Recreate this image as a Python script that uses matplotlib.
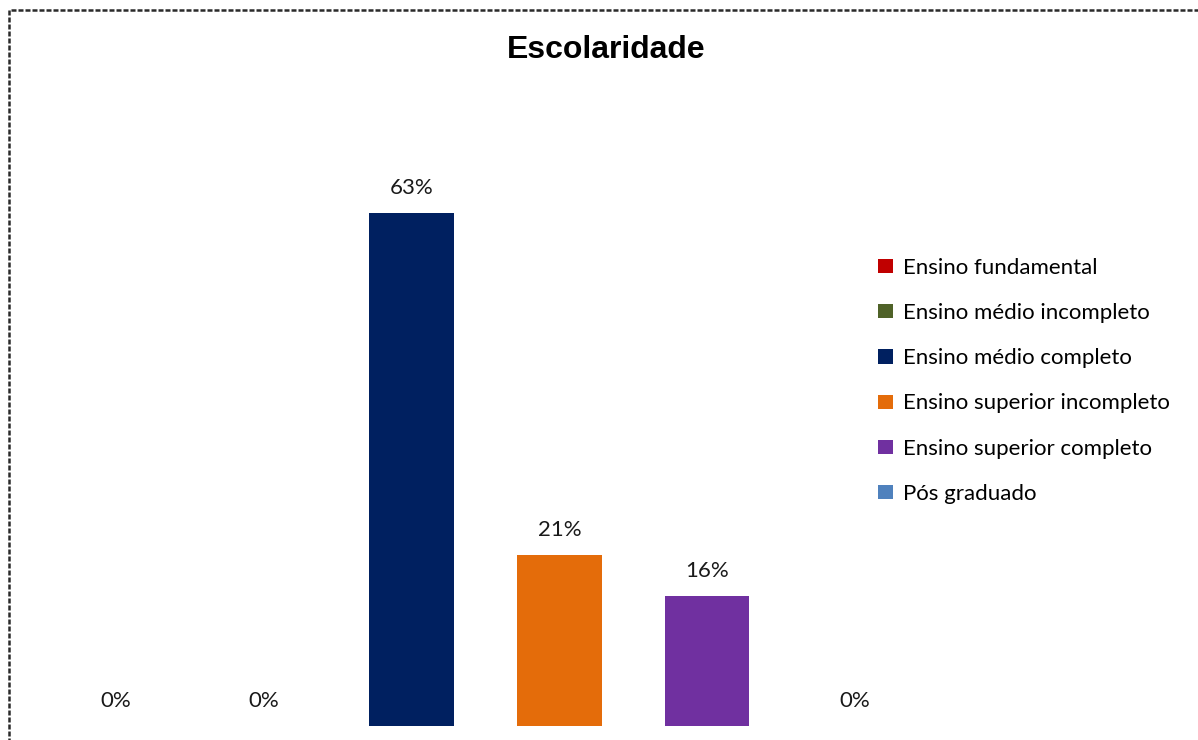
import matplotlib
matplotlib.use('Agg')
import matplotlib.pyplot as plt
from matplotlib.patches import Rectangle
import numpy as np

# Dados do gráfico
categorias = ["Ensino fundamental", "Ensino médio incompleto", "Ensino médio completo",
              "Ensino superior incompleto", "Ensino superior completo", "Pós graduado"]
percentuais = [0, 0, 63, 21, 16, 0]
cores = ["#C00000", "#4F6228", "#002060", "#E46C0A", "#7030A0", "#4F81BD"]

W, H = 1198, 740
fig = plt.figure(figsize=(W / 100, H / 100), dpi=100)

# Eixo posicionado em pixels: x de 42 a 929, base em y=726
left, right = 42, 929
base = 726
top = base - 70 * 8.14
ax = fig.add_axes([left / W, 1 - base / H, (right - left) / W, (base - top) / H])
ax.set_xlim(-0.5, 5.5)
ax.set_ylim(0, 70)
ax.set_axis_off()

x = np.arange(len(categorias))
for i in range(len(categorias)):
    ax.bar(x[i], percentuais[i], width=0.57, color=cores[i], label=categorias[i])
    ax.annotate(f"{percentuais[i]}%", (x[i], percentuais[i]), xytext=(0, 18),
                textcoords="offset points", ha="center", va="center",
                fontsize=16, family="Lato", color="#1a1a1a")

fig.text(606 / W, 1 - 50 / H, "Escolaridade", ha="center", va="center",
         fontsize=23, fontweight="bold", family="Liberation Sans")

leg = fig.legend(loc="upper left", bbox_to_anchor=(867 / W, 1 - 247 / H),
                 frameon=False, prop={"family": "Lato", "size": 16},
                 handlelength=0.65, handleheight=0.6, handletextpad=0.45,
                 labelspacing=1.13, borderpad=0)

# Borda tracejada do gráfico (cortada à direita e embaixo)
fig.patches.append(Rectangle((9 / W, -0.1), 1.2, 1 - 10 / H + 0.1,
                             transform=fig.transFigure, fill=False,
                             edgecolor="#2a2a2a", linewidth=1.8,
                             linestyle=(0, (2, 0.8))))

fig.savefig("out.png", dpi=100)
